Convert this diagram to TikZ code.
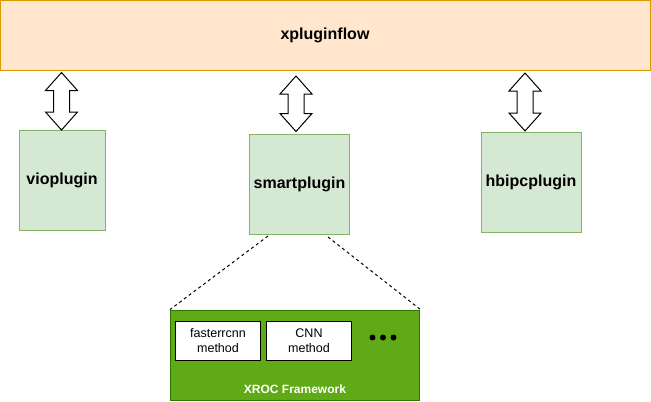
\documentclass[tikz,border=0pt]{standalone}
\usepackage{fontspec}
\setmainfont{Liberation Sans}
\usetikzlibrary{calc}

\definecolor{flowfill}{RGB}{255,230,204}
\definecolor{flowdraw}{RGB}{215,155,0}
\definecolor{plugfill}{RGB}{213,232,212}
\definecolor{plugdraw}{RGB}{130,179,102}
\definecolor{xrocfill}{RGB}{96,169,23}
\definecolor{xrocdraw}{RGB}{45,118,0}

\tikzset{
  flowbox/.style={draw=flowdraw, fill=flowfill, line width=0.75pt, inner sep=0pt,
    minimum width=487.5pt, minimum height=52.5pt, font=\fontsize{12}{14}\selectfont\bfseries},
  pluginbox/.style={draw=plugdraw, fill=plugfill, line width=0.75pt, inner sep=0pt,
    minimum width=75pt, minimum height=75pt, font=\fontsize{12}{14}\selectfont\bfseries},
  xrocbox/.style={draw=xrocdraw, fill=xrocfill, line width=0.75pt, inner sep=0pt,
    minimum width=187pt, minimum height=67.5pt},
  methodbox/.style={draw=black, fill=white, line width=0.75pt, inner sep=0pt, align=center,
    minimum width=63.75pt, minimum height=29.25pt, font=\fontsize{9.4}{11.7}\selectfont},
  xroclabel/.style={text=white, inner sep=0pt, font=\fontsize{9}{11}\selectfont\bfseries},
  arrowline/.style={draw=black, fill=white, line width=0.75pt, line join=miter},
  linkline/.style={draw=black, line width=0.75pt, dash pattern=on 2.25pt off 2.25pt}
}

% two-headed block arrow from #1 (upper tip) to #2 (lower tip)
\newcommand{\dualarrow}[2]{%
  \path[arrowline] (#1) -- ($(#1)+(16,18)$) -- ($(#1)+(8,18)$) -- ($(#2)+(8,-18)$)
    -- ($(#2)+(16,-18)$) -- (#2) -- ($(#2)+(-16,-18)$) -- ($(#2)+(-8,-18)$)
    -- ($(#1)+(-8,18)$) -- ($(#1)+(-16,18)$) -- cycle;}

\begin{document}
\begin{tikzpicture}[x=0.75pt,y=0.75pt,yscale=-1,xscale=1]
\path[use as bounding box] (0,0) rectangle (651,401);

% top layer
\node[flowbox] (flow) at (325,35) {xpluginflow};

% plugins
\node[pluginbox, minimum width=64.5pt] (vio) at (62,180) {vioplugin};
\node[pluginbox] (smart) at (299.5,184) {smartplugin};
\node[pluginbox] (hbipc) at (531,182) {hbipcplugin};

% arrow tips
\coordinate (vioT) at (61.5,72.5);
\coordinate (vioB) at (61.5,130);
\coordinate (smartT) at (296,76);
\coordinate (smartB) at (296,131.5);
\coordinate (hbipcT) at (525,73);
\coordinate (hbipcB) at (525,131);

\dualarrow{vioT}{vioB}
\dualarrow{smartT}{smartB}
\dualarrow{hbipcT}{hbipcB}

% framework
\node[xrocbox] (xroc) at (295.25,355) {};
\node[methodbox] (faster) at (218,340.5) {fasterrcnn\\method};
\node[methodbox] (cnn) at (309,340.5) {CNN\\method};
\fill (372.5,337.5) circle (3) (383,337.5) circle (3) (393.5,337.5) circle (3);
\node[xroclabel] (xroclbl) at (295,389) {XROC Framework};

% zoom lines
\coordinate (zoomL) at (268,236);
\coordinate (zoomR) at (328,237);
\draw[linkline] (zoomL) -- (xroc.north west);
\draw[linkline] (zoomR) -- (xroc.north east);

\end{tikzpicture}
\end{document}
